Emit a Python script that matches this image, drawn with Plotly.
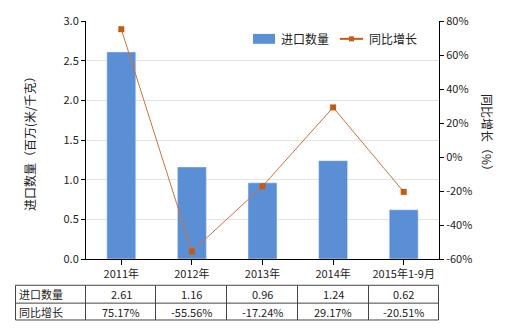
import plotly.graph_objects as go

categories = ["2011年", "2012年", "2013年", "2014年", "2015年1-9月"]
import_qty = [2.61, 1.16, 0.96, 1.24, 0.62]
growth = [75.17, -55.56, -17.24, 29.17, -20.51]
qty_labels = ["2.61", "1.16", "0.96", "1.24", "0.62"]
growth_labels = ["75.17%", "-55.56%", "-17.24%", "29.17%", "-20.51%"]
left_ticks = [0, 0.5, 1.0, 1.5, 2.0, 2.5, 3.0]
left_ticktext = ["0.0", "0.5", "1.0", "1.5", "2.0", "2.5", "3.0"]
right_ticks = [-60, -40, -20, 0, 20, 40, 60, 80]
right_ticktext = [f"{v}%" for v in right_ticks]

W, H = 520, 330
L, R, T, B = 86, 81, 19, 71
FONT = "Noto Sans CJK SC"
BAR = "#5a8fd6"
LINE = "#d0703c"
MARK = "#c55a11"

fig = go.Figure()
fig.add_trace(go.Bar(x=categories, y=import_qty, marker_color=BAR, width=0.41,
                     name="进口数量", yaxis="y"))
fig.add_trace(go.Scatter(x=categories, y=growth, mode="lines+markers", yaxis="y2",
                         line=dict(color=LINE, width=1),
                         marker=dict(symbol="square", size=6, color=MARK),
                         name="同比增长"))

def px_x(p):
    return p / W
def px_y(p):
    return 1 - p / H

shapes = []
annotations = []

# table
tx0, tx1 = 15.5, 438.5
ty = [285.5, 303.5, 320.5]
col_lines = [15.5, 85.5, 155.5, 226.5, 297.5, 368.5, 438.5]
for yy in ty:
    shapes.append(dict(type="line", xref="paper", yref="paper",
                       x0=(tx0 - L) / (W - L - R), x1=(tx1 - L) / (W - L - R),
                       y0=(H - B - yy) / (H - T - B), y1=(H - B - yy) / (H - T - B),
                       line=dict(color="#444", width=1)))
for xx in col_lines:
    shapes.append(dict(type="line", xref="paper", yref="paper",
                       x0=(xx - L) / (W - L - R), x1=(xx - L) / (W - L - R),
                       y0=(H - B - ty[0]) / (H - T - B), y1=(H - B - ty[2]) / (H - T - B),
                       line=dict(color="#444", width=1)))

def pa(xp, yp):
    return (xp - L) / (W - L - R), (H - B - yp) / (H - T - B)

rows = [("进口数量", qty_labels), ("同比增长", growth_labels)]
row_centers = [294.5, 312]
for (name, labels), yc in zip(rows, row_centers):
    x, y = pa(17, yc)
    annotations.append(dict(text=name, x=x, y=y, xref="paper", yref="paper",
                            xanchor="left", yanchor="middle", showarrow=False,
                            font=dict(size=11, color="#222", family=FONT)))
    for i, lab in enumerate(labels):
        annotations.append(dict(text=lab, x=i, y=y, xref="x", yref="paper",
                                xanchor="center", yanchor="middle", showarrow=False,
                                font=dict(size=11, color="#222", family=FONT)))

# axis titles
x, y = pa(30, 140)
annotations.append(dict(text="进口数量（百万(米/千克）", x=x, y=y, xref="paper", yref="paper",
                        textangle=-90, showarrow=False, xanchor="center", yanchor="middle",
                        font=dict(size=12, color="#222", family=FONT)))
x, y = pa(488, 135)
annotations.append(dict(text="同比增长（%）", x=x, y=y, xref="paper", yref="paper",
                        textangle=90, showarrow=False, xanchor="center", yanchor="middle",
                        font=dict(size=12, color="#222", family=FONT)))

# legend
x0, y0 = pa(253, 32)
x1, y1 = pa(275, 42)
shapes.append(dict(type="rect", xref="paper", yref="paper", x0=x0, x1=x1, y0=y0, y1=y1,
                   fillcolor=BAR, line=dict(width=0)))
x, y = pa(279, 37)
annotations.append(dict(text="进口数量", x=x, y=y, xref="paper", yref="paper",
                        xanchor="left", yanchor="middle", showarrow=False,
                        font=dict(size=12, color="#222", family=FONT)))
x0, y0 = pa(340, 37)
x1, _ = pa(363, 37)
shapes.append(dict(type="line", xref="paper", yref="paper", x0=x0, x1=x1, y0=y0, y1=y0,
                   line=dict(color=MARK, width=2)))
xm0, ym0 = pa(349, 34.5)
xm1, ym1 = pa(354, 39.5)
shapes.append(dict(type="rect", xref="paper", yref="paper", x0=xm0, x1=xm1, y0=ym0, y1=ym1,
                   fillcolor=MARK, line=dict(width=0)))
x, y = pa(367, 37)
annotations.append(dict(text="同比增长", x=x, y=y, xref="paper", yref="paper",
                        xanchor="left", yanchor="middle", showarrow=False,
                        font=dict(size=12, color="#222", family=FONT)))

fig.update_layout(
    width=W, height=H, margin=dict(l=L, r=R, t=T, b=B),
    paper_bgcolor="white", plot_bgcolor="white", showlegend=False,
    font=dict(family=FONT, size=11, color="#222"),
    xaxis=dict(showline=True, linecolor="#000", linewidth=1, ticks="outside",
               ticklen=5, tickcolor="#000", showgrid=False,
               tickfont=dict(size=11, color="#222")),
    yaxis=dict(range=[0, 3.0], tickvals=left_ticks, ticktext=left_ticktext,
               showline=True, linecolor="#000", linewidth=1, ticks="outside",
               ticklen=4, tickcolor="#000", gridcolor="#e3e3e3", zeroline=False,
               tickfont=dict(size=11, color="#222")),
    yaxis2=dict(range=[-60, 80], tickvals=right_ticks, ticktext=right_ticktext,
                overlaying="y", side="right", showline=True, linecolor="#000",
                linewidth=1, ticks="outside", ticklen=4, tickcolor="#000",
                showgrid=False, zeroline=False, tickfont=dict(size=11, color="#222")),
    shapes=shapes, annotations=annotations,
)
fig.write_html("out.html")
